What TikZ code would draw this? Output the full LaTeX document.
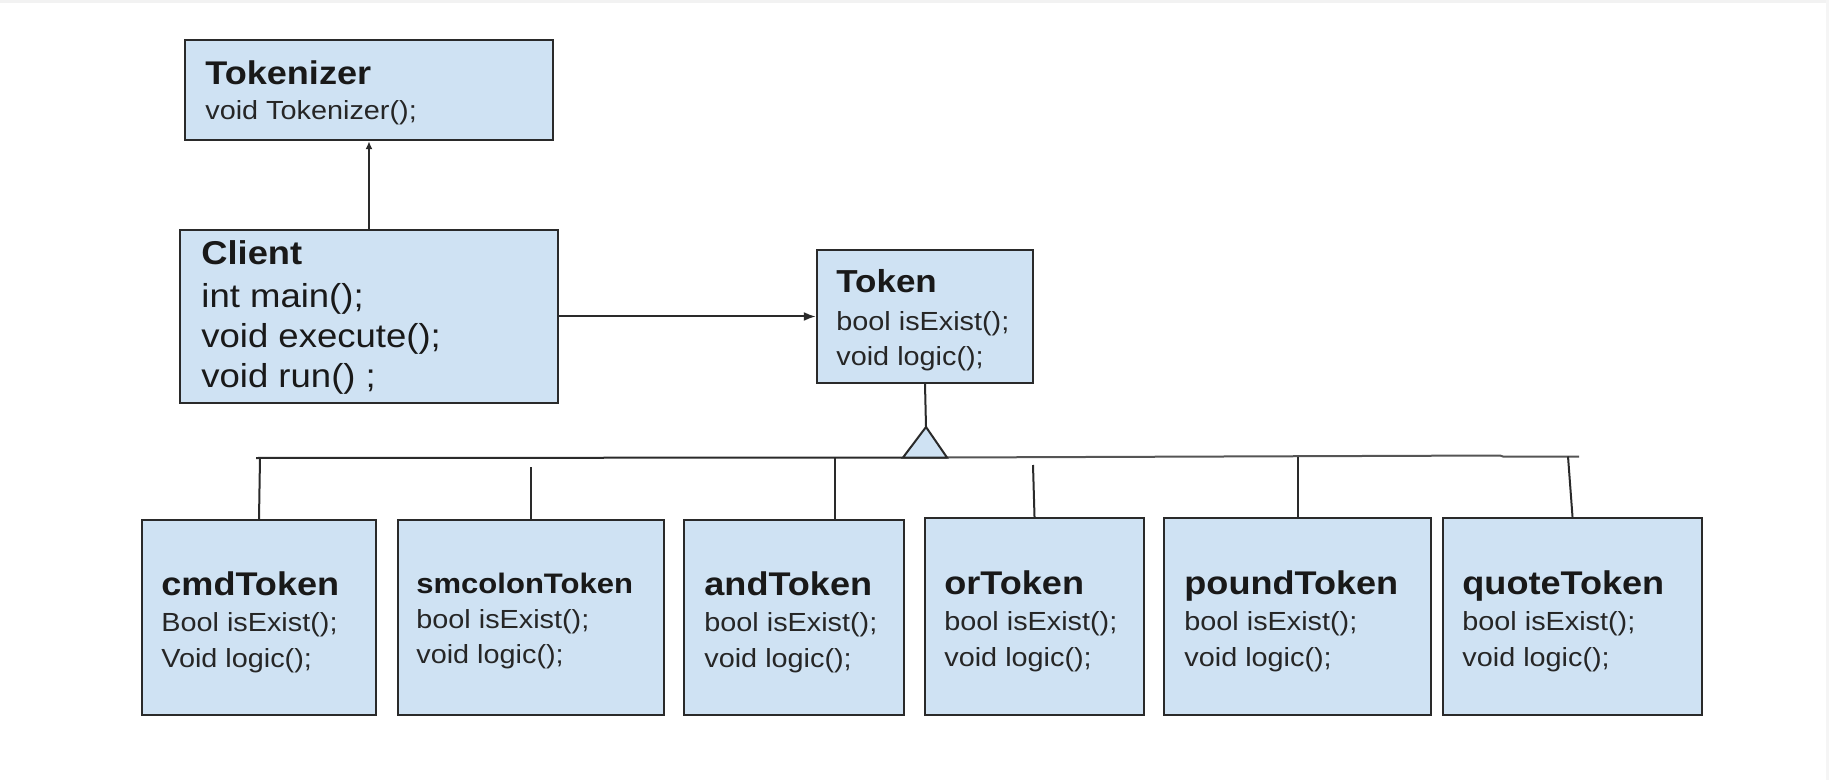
\documentclass[tikz,border=0pt]{standalone}
\usepackage{fontspec}
\setmainfont{Liberation Sans}[FakeStretch=1.1]
\usetikzlibrary{arrows.meta,fit}
\definecolor{boxfill}{HTML}{CFE2F3}
\definecolor{edgec}{HTML}{2A2A2A}
\definecolor{busgray}{HTML}{555555}
\begin{document}
\begin{tikzpicture}[x=0.5pt,y=-0.5pt,
  umlbox/.style={draw=edgec,fill=boxfill,line width=1.2pt,inner sep=0pt,rectangle},
  ttl/.style={anchor=base west,inner sep=0pt,font=\fontsize{16.4pt}{18pt}\selectfont\bfseries,text=black!90},
  bdy/.style={anchor=base west,inner sep=0pt,font=\fontsize{13.1pt}{15pt}\selectfont,text=black!85},
  bigbdy/.style={anchor=base west,inner sep=0pt,font=\fontsize{16.6pt}{19pt}\selectfont,text=black!90},
  conn/.style={draw=edgec,line width=1pt},
  arr/.style={conn,-{Latex[length=6pt,width=4.5pt]}},
  sarr/.style={conn,-{Latex[length=4pt,width=3.5pt]}}]
\useasboundingbox (0,0) rectangle (1829,780);
\fill[black!5] (0,0) rectangle (1829,3);
\fill[black!4] (1826,0) rectangle (1829,780);

% boxes
\node[umlbox,fit={(185,40) (553,140)}] (tkz) {};
\node[umlbox,fit={(180,230) (558,403)}] (cli) {};
\node[umlbox,fit={(817,250) (1033,383)}] (tok) {};
\node[umlbox,fit={(142,520) (376,715)}] (cmd) {};
\node[umlbox,fit={(398,520) (664,715)}] (smc) {};
\node[umlbox,fit={(684,520) (904,715)}] (and) {};
\node[umlbox,fit={(925,518) (1144,715)}] (ort) {};
\node[umlbox,fit={(1164,518) (1431,715)}] (pnd) {};
\node[umlbox,fit={(1443,518) (1702,715)}] (qot) {};

% texts
\node[ttl] (tkzT) at (205,85) {Tokenizer};
\node[bdy] (tkzB) at (205,120) {void Tokenizer();};

\node[ttl,font=\fontsize{16.5pt}{18pt}\selectfont\bfseries] (cliT) at (201,265) {Client};
\node[bigbdy] (cliB1) at (201,307) {int main();};
\node[bigbdy] (cliB2) at (201,348) {void execute();};
\node[bigbdy] (cliB3) at (201,387) {void run() ;};

\node[ttl,font=\fontsize{15.9pt}{18pt}\selectfont\bfseries] (tokT) at (836,293) {Token};
\node[bdy] (tokB1) at (836,330) {bool isExist();};
\node[bdy] (tokB2) at (836,365) {void logic();};

\node[ttl] (cmdT) at (161,595) {cmdToken};
\node[bdy] (cmdB1) at (161,631) {Bool isExist();};
\node[bdy] (cmdB2) at (161,667) {Void logic();};

\node[ttl,font=\fontsize{14.1pt}{16pt}\selectfont\bfseries] (smcT) at (416,593) {smcolonToken};
\node[bdy] (smcB1) at (416,628) {bool isExist();};
\node[bdy] (smcB2) at (416,663) {void logic();};

\node[ttl] (andT) at (704,595) {andToken};
\node[bdy] (andB1) at (704,631) {bool isExist();};
\node[bdy] (andB2) at (704,667) {void logic();};

\node[ttl] (ortT) at (944,594) {orToken};
\node[bdy] (ortB1) at (944,630) {bool isExist();};
\node[bdy] (ortB2) at (944,666) {void logic();};

\node[ttl] (pndT) at (1184,594) {poundToken};
\node[bdy] (pndB1) at (1184,630) {bool isExist();};
\node[bdy] (pndB2) at (1184,666) {void logic();};

\node[ttl] (qotT) at (1462,594) {quoteToken};
\node[bdy] (qotB1) at (1462,630) {bool isExist();};
\node[bdy] (qotB2) at (1462,666) {void logic();};

% associations
\draw[sarr] (cli.north) -- (tkz.south);
\draw[arr] (cli.east) -- (tok.west);

% generalisation
\coordinate (apex) at (926,427);
\coordinate (baseL) at (903,457.5);
\coordinate (baseR) at (947,457.5);
\coordinate (busL) at (256,458);
\coordinate (busM) at (1500,455.5);
\coordinate (busN) at (1503,456.5);
\coordinate (busR) at (1579,456.5);
\draw[conn] (tok.south) -- (apex);
\draw[conn] (busL) -- (baseR);
\draw[conn,draw=busgray] (baseR) -- (busM) -- (busN) -- (busR);
\filldraw[fill=boxfill,draw=edgec,line width=1pt,line join=miter] (baseL) -- (apex) -- (baseR) -- cycle;

% branches
\coordinate (jcmd) at (260,458);
\coordinate (jsmc) at (531,467);
\coordinate (jand) at (835,458);
\coordinate (jort) at (1033,465);
\coordinate (jpnd) at (1298,456.5);
\coordinate (jqot) at (1568,456.5);
\draw[conn] (jcmd) -- (cmd.north);
\draw[conn] (jsmc) -- (smc.north);
\draw[conn] (jand) -- (jand |- and.north);
\draw[conn] (jort) -- (ort.north);
\draw[conn] (jpnd) -- (jpnd |- pnd.north);
\draw[conn] (jqot) -- (qot.north);
\end{tikzpicture}
\end{document}
